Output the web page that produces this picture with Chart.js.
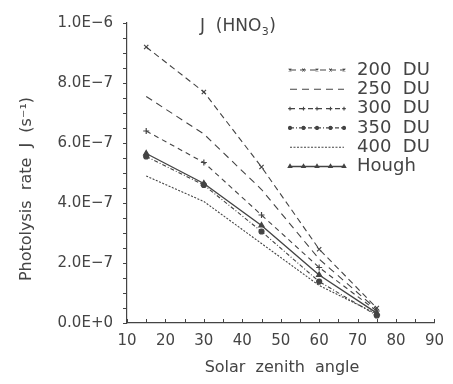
<!DOCTYPE html>
<html>
<head>
<meta charset="utf-8">
<script src="https://cdn.jsdelivr.net/npm/chart.js@4/dist/chart.umd.min.js"></script>
<style>
    html, body { margin: 0; padding: 0; background: #fff; }
    #wrap { width: 453px; height: 384px; }
</style>
</head>
<body>
<div id="wrap"><canvas id="jchart" width="453" height="384"></canvas></div>
<script>
// solar zenith angles (deg) and J(HNO3) for each ozone column
const angles = [15, 30, 45, 60, 75];
const du200 = [9.2e-7, 7.7e-7, 5.2e-7, 2.46e-7, 0.5e-7];
const du250 = [7.55e-7, 6.3e-7, 4.45e-7, 2.13e-7, 0.45e-7];
const du300 = [6.4e-7, 5.35e-7, 3.6e-7, 1.85e-7, 0.4e-7];
const du350 = [5.55e-7, 4.6e-7, 3.05e-7, 1.38e-7, 0.25e-7];
const du400 = [4.9e-7, 4.05e-7, 2.65e-7, 1.25e-7, 0.3e-7];
const hough = [5.65e-7, 4.65e-7, 3.25e-7, 1.6e-7, 0.33e-7];

const seriesNames = ["200  DU", "250  DU", "300  DU", "350  DU", "400  DU", "Hough"];
const xTicks = [10, 20, 30, 40, 50, 60, 70, 80, 90];
const yTicks = [0, 2e-7, 4e-7, 6e-7, 8e-7, 1e-6];

const INK = "#444";
const FONT = "DejaVu Sans";

function sci(v) {
    if (Math.abs(v) < 1e-15) return "0.0E+0";
    let e = Math.floor(Math.log10(Math.abs(v)) + 1e-9);
    let m = v / Math.pow(10, e);
    if (m >= 9.95) { m /= 10; e += 1; }
    return m.toFixed(1) + "E" + (e < 0 ? "\u2212" : "+") + Math.abs(e);
}

const pts = vals => angles.map((a, i) => ({ x: a, y: vals[i] }));

const styles = [
    { data: du200, dash: [6, 4], point: "crossRot", r: 3 },
    { data: du250, dash: [7, 5], point: "circle", r: 0 },
    { data: du300, dash: [5, 4], point: "cross", r: 3 },
    { data: du350, dash: [4, 2, 1, 2], point: "circle", r: 2.5 },
    { data: du400, dash: [2, 1.5], point: "circle", r: 0 },
    { data: hough, dash: [], point: "triangle", r: 3 }
];

const datasets = styles.map((s, i) => ({
    label: seriesNames[i],
    data: pts(s.data),
    borderColor: INK,
    backgroundColor: INK,
    borderWidth: i === 5 ? 1.4 : 1.1,
    borderDash: s.dash,
    pointStyle: s.point,
    pointRadius: s.r,
    pointBorderWidth: 1.2,
    tension: 0
}));

// minor ticks, titles and the line-sample legend
const decorations = {
    id: "decorations",
    afterDraw(chart) {
        const ctx = chart.ctx;
        const xs = chart.scales.x, ys = chart.scales.y;
        const area = chart.chartArea;
        ctx.save();
        ctx.strokeStyle = INK;
        ctx.lineWidth = 1;
        ctx.setLineDash([]);
        for (let v = 10; v <= 90; v += 5) {
            const px = Math.round(xs.getPixelForValue(v)) + 0.5;
            ctx.beginPath();
            ctx.moveTo(px, area.bottom);
            ctx.lineTo(px, area.bottom - 4);
            ctx.stroke();
        }
        for (let k = 0; k <= 20; k++) {
            const py = Math.round(ys.getPixelForValue(k * 0.5e-7)) + 0.5;
            ctx.beginPath();
            ctx.moveTo(area.left, py);
            ctx.lineTo(area.left - 4, py);
            ctx.stroke();
        }

        ctx.fillStyle = INK;
        ctx.textBaseline = "middle";

        // plot title J (HNO3)
        ctx.font = "17px '" + FONT + "'";
        ctx.textAlign = "left";
        let tx = 200;
        ctx.fillText("J  (HNO", tx, 27);
        tx += ctx.measureText("J  (HNO").width;
        ctx.font = "11px '" + FONT + "'";
        ctx.fillText("3", tx + 0.5, 32);
        tx += ctx.measureText("3").width + 1;
        ctx.font = "17px '" + FONT + "'";
        ctx.fillText(")", tx, 27);

        // axis titles
        ctx.font = "16px '" + FONT + "'";
        ctx.textAlign = "center";
        ctx.fillText("Solar  zenith  angle", 282, 368);
        ctx.save();
        ctx.translate(27, 189);
        ctx.rotate(-Math.PI / 2);
        ctx.fillText("Photolysis  rate  J  (s\u207B\u00B9)", 0, 0);
        ctx.restore();

        // legend rows
        const x0 = 290, x1 = 344, rowY = 70, rowH = 19.3;
        chart.data.datasets.forEach((ds, i) => {
            const y = rowY + i * rowH;
            ctx.strokeStyle = INK;
            ctx.lineWidth = ds.borderWidth;
            ctx.setLineDash(ds.borderDash);
            ctx.beginPath();
            ctx.moveTo(x0, y);
            ctx.lineTo(x1, y);
            ctx.stroke();
            ctx.setLineDash([]);
            if (ds.pointRadius > 0) {
                for (let j = 0; j < 5; j++) {
                    Chart.helpers.drawPoint(ctx, {
                        pointStyle: ds.pointStyle,
                        radius: ds.pointRadius * 0.6,
                        rotation: 0,
                        borderWidth: 1
                    }, x0 + j * (x1 - x0) / 4, y);
                    ctx.fillStyle = INK;
                    ctx.fill();
                }
            }
            ctx.fillStyle = INK;
            ctx.font = "18px '" + FONT + "'";
            ctx.textAlign = "left";
            ctx.fillText(ds.label, 357, y);
        });
        ctx.restore();
    }
};

new Chart(document.getElementById("jchart").getContext("2d"), {
    type: "line",
    data: { datasets: datasets },
    options: {
        responsive: false,
        animation: false,
        devicePixelRatio: 1,
        layout: { padding: { left: 0, top: 12, right: 13, bottom: 0 } },
        plugins: { legend: { display: false }, tooltip: { enabled: false } },
        scales: {
            x: {
                type: "linear",
                min: 10,
                max: 90,
                afterFit: s => { s.height = 61; },
                afterBuildTicks: s => { s.ticks = xTicks.map(v => ({ value: v })); },
                ticks: { color: INK, padding: 9, font: { family: FONT, size: 15 }, maxRotation: 0 },
                grid: { display: false, drawTicks: false },
                border: { display: true, color: INK, width: 1.2 }
            },
            y: {
                type: "linear",
                min: 0,
                max: 1e-6,
                afterFit: s => { s.width = 127; },
                afterBuildTicks: s => { s.ticks = yTicks.map(v => ({ value: v })); },
                ticks: { color: INK, padding: 14, font: { family: FONT, size: 15 }, callback: v => sci(v) },
                grid: { display: false, drawTicks: false },
                border: { display: true, color: INK, width: 1.2 }
            }
        }
    },
    plugins: [decorations]
});
</script>
</body>
</html>
